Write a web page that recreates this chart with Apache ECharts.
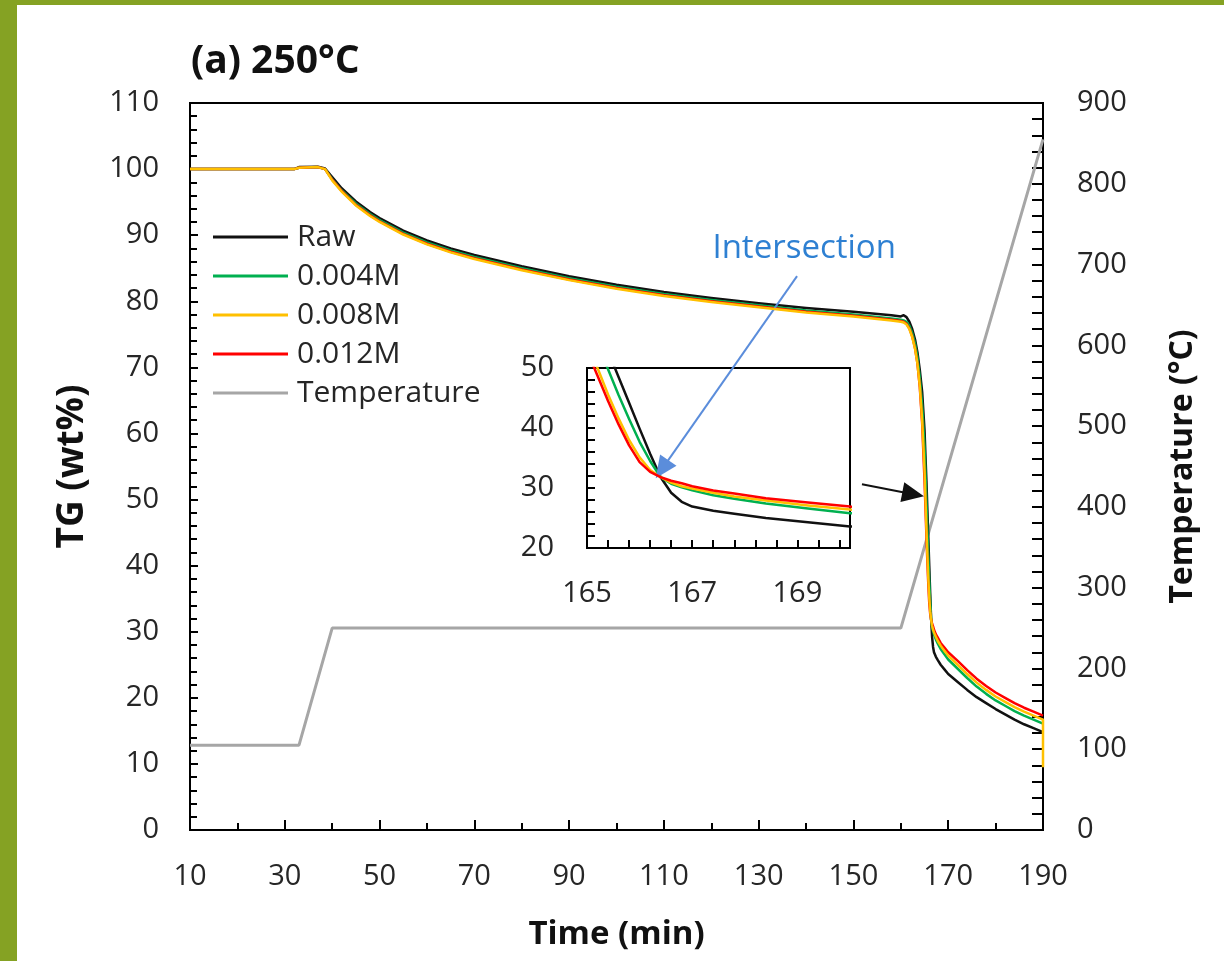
<!DOCTYPE html>
<html>
<head>
<meta charset="utf-8">
<script src="https://cdn.jsdelivr.net/npm/echarts@6/dist/echarts.min.js"></script>
<style>
  html, body { margin: 0; padding: 0; width: 1224px; height: 961px; overflow: hidden; background: #85A223; }
  #panel { position: absolute; left: 17px; top: 5px; right: 0; bottom: 0; background: #ffffff; }
  #chart { position: absolute; left: 0; top: 0; width: 1224px; height: 961px; }
</style>
</head>
<body>
<div id="panel"></div>
<div id="chart"></div>
<script>
// ---- data ----
const time = [10, 32, 33, 37, 38.5, 40, 42, 45, 48, 50,
  55, 60, 65, 70, 80, 90, 100, 110, 120, 130,
  140, 150, 158, 160, 160.6, 161.2, 161.8, 162.4, 163, 163.5,
  164, 164.5, 165, 165.2, 165.4, 165.6, 165.8, 166, 166.2, 166.4,
  166.6, 166.8, 167, 167.4, 167.8, 168.4, 169.2, 170, 172, 174,
  176, 178, 180, 182, 184, 186, 188, 190];
const raw = [100.0, 100.0, 100.3, 100.35, 100.1, 98.8, 97.1, 95.1, 93.5, 92.6,
  90.7, 89.2, 88.0, 87.0, 85.3, 83.8, 82.5, 81.4, 80.5, 79.7,
  79.0, 78.4, 77.9, 77.7, 77.9, 77.6, 76.9, 75.8, 74.2, 72.3,
  69.6, 66.3, 60.5, 56.6, 52.8, 48.5, 44.2, 39.9, 35.7, 31.8,
  29.2, 27.7, 26.9, 26.2, 25.7, 25.0, 24.3, 23.6, 22.4, 21.2,
  20.1, 19.2, 18.3, 17.5, 16.7, 16.0, 15.4, 14.8];
const m004 = [100.0, 100.0, 100.2, 100.3, 100.0, 98.5, 96.8, 94.8, 93.2, 92.3,
  90.4, 88.9, 87.7, 86.7, 85.0, 83.5, 82.2, 81.1, 80.2, 79.4,
  78.6, 78.0, 77.4, 77.2, 77.1, 76.9, 76.3, 75.2, 73.6, 71.6,
  68.5, 64.3, 58.0, 54.0, 49.8, 45.5, 41.5, 37.7, 34.5, 31.8,
  30.7, 30.1, 29.6, 28.8, 28.2, 27.4, 26.6, 25.8, 24.4, 23.0,
  21.7, 20.6, 19.6, 18.8, 18.0, 17.3, 16.7, 16.1];
const m008 = [100.0, 100.0, 100.2, 100.3, 100.0, 98.3, 96.6, 94.5, 92.9, 92.0,
  90.1, 88.6, 87.4, 86.4, 84.7, 83.2, 81.9, 80.8, 79.9, 79.1,
  78.3, 77.7, 77.1, 76.9, 76.8, 76.5, 75.8, 74.6, 72.8, 70.6,
  67.2, 62.0, 54.4, 50.0, 45.6, 41.6, 38.0, 35.1, 33.0, 31.8,
  30.9, 30.3, 29.9, 29.2, 28.6, 27.9, 27.1, 26.4, 25.0, 23.6,
  22.3, 21.2, 20.2, 19.4, 18.6, 17.9, 17.3, 16.7];
const m008Tail = [[190, 9.5]];
const m012 = [100.0, 100.0, 100.2, 100.3, 100.0, 98.4, 96.7, 94.6, 93.0, 92.1,
  90.2, 88.7, 87.5, 86.5, 84.8, 83.3, 82.0, 80.9, 80.0, 79.2,
  78.4, 77.8, 77.2, 77.0, 76.9, 76.6, 75.9, 74.7, 72.9, 70.6,
  67.0, 61.5, 52.9, 48.7, 44.5, 40.6, 37.1, 34.3, 32.7, 31.8,
  31.2, 30.8, 30.3, 29.6, 29.1, 28.3, 27.6, 26.9, 25.6, 24.2,
  22.9, 21.8, 20.8, 20.0, 19.2, 18.5, 17.9, 17.3];
const tempTime = [10, 33, 40, 160, 190];
const temperature = [105, 105, 250, 250, 855];

const seriesNames = ['Raw', '0.004M', '0.008M', '0.012M', 'Temperature'];
const seriesColors = ['#111111', '#00B050', '#FFC000', '#FF0000', '#A6A6A6'];

// axes scales
const xMain = { min: 10, max: 190, step: 20 };
const yMain = { min: 0, max: 110, step: 10 };
const yTemp = { min: 0, max: 900, step: 100 };
const xInset = { min: 165, max: 170, step: 2 };
const yInset = { min: 20, max: 50, step: 10 };

// annotations (data coordinates)
const intersection = [166.4, 31.8];
const blueArrow = [[138.1, 83.8], [109.6, 54.6]];
const blackArrow = [[151.8, 52.3], [162.6, 50.8]];
const labelAt = [139.6, 88.0];

// ---- build ----
const zip = (xs, ys) => xs.map((x, i) => [x, ys[i]]);
const FONT = 'Open Sans';
const TXT = '#262626';
const TICK = 29;

const chart = echarts.init(document.getElementById('chart'), null, { renderer: 'canvas' });

function tgSeries(name, data, color, z, inset) {
  return {
    name: name, type: 'line', data: data,
    xAxisIndex: inset ? 1 : 0, yAxisIndex: inset ? 2 : 0,
    symbol: 'none', showSymbol: false, clip: true, z: z,
    lineStyle: { color: color, width: 2.5, join: 'round' }, itemStyle: { color: color },
    emphasis: { disabled: true }
  };
}

const raw0 = tgSeries('Raw', zip(time, raw), seriesColors[0], 2, false);
raw0.markLine = {
  silent: true, animation: false, symbol: ['none', 'triangle'], symbolSize: [20, 22],
  label: { show: false },
  data: [
    [{ coord: blueArrow[0], lineStyle: { color: '#5B8DDB', width: 2, type: 'solid' } },
     { coord: blueArrow[1], lineStyle: { color: '#5B8DDB', width: 2, type: 'solid' } }],
    [{ coord: blackArrow[0], lineStyle: { color: '#111', width: 2, type: 'solid' } },
     { coord: blackArrow[1], lineStyle: { color: '#111', width: 2, type: 'solid' } }]
  ]
};
const raw1 = tgSeries('Raw', zip(time, raw), seriesColors[0], 2, true);
raw1.markLine = {
  silent: true, animation: false, symbol: ['none', 'none'],
  label: { show: false },
  lineStyle: { color: '#5B8DDB', width: 1.5, type: 'solid' },
  data: [
    [{ coord: [xInset.min - 0.08, intersection[1]] }, { coord: intersection }],
    [{ coord: intersection }, { coord: [intersection[0], yInset.min - 0.4] }]
  ]
};

const option = {
  animation: false,
  backgroundColor: 'transparent',
  textStyle: { fontFamily: FONT },
  title: {
    text: '(a) 250°C', left: 186, top: 37,
    textStyle: { fontFamily: FONT, fontSize: 39, fontWeight: 'bold', color: '#111' }
  },
  legend: {
    data: seriesNames, orient: 'vertical', left: 213, top: 222, padding: 0,
    icon: 'rect', itemWidth: 75, itemHeight: 3, itemGap: 9,
    textStyle: { fontFamily: FONT, fontSize: 30, color: TXT, lineHeight: 30, padding: [0, 0, 0, 4] },
    selectedMode: false
  },
  grid: [
    { left: 190, right: 181, top: 103, bottom: 131, show: true, borderColor: '#000', borderWidth: 2, backgroundColor: 'transparent' },
    { left: 587, top: 368, width: 263, height: 180, show: true, borderColor: '#000', borderWidth: 2, backgroundColor: '#fff' }
  ],
  xAxis: [
    {
      type: 'value', gridIndex: 0, min: xMain.min, max: xMain.max, interval: xMain.step,
      name: 'Time (min)', nameLocation: 'middle', nameGap: 88,
      nameTextStyle: { fontFamily: FONT, fontSize: 33, fontWeight: 'bold', color: '#111' },
      axisLine: { lineStyle: { color: '#000', width: 2 } },
      axisTick: { inside: true, length: 10, lineStyle: { color: '#000', width: 2 } },
      minorTick: { show: true, splitNumber: 2, length: 7, lineStyle: { color: '#000', width: 2 } },
      splitLine: { show: false },
      axisLabel: { fontFamily: FONT, fontSize: TICK, color: TXT, margin: 32 }
    },
    {
      type: 'value', gridIndex: 1, min: xInset.min, max: xInset.max, interval: xInset.step,
      axisLine: { lineStyle: { color: '#000', width: 2 } },
      axisTick: { inside: true, length: 8, lineStyle: { color: '#000', width: 2 } },
      minorTick: { show: true, splitNumber: 5, length: 8, lineStyle: { color: '#000', width: 2 } },
      splitLine: { show: false },
      axisLabel: { fontFamily: FONT, fontSize: TICK, color: TXT, margin: 31, showMaxLabel: false }
    }
  ],
  yAxis: [
    {
      type: 'value', gridIndex: 0, min: yMain.min, max: yMain.max, interval: yMain.step,
      name: 'TG (wt%)', nameLocation: 'middle', nameGap: 99,
      nameTextStyle: { fontFamily: FONT, fontSize: 37, fontWeight: 'bold', color: '#111' },
      axisLine: { show: true, lineStyle: { color: '#000', width: 2 } },
      axisTick: { show: true, inside: true, length: 8, lineStyle: { color: '#000', width: 2 } },
      minorTick: { show: true, splitNumber: 5, length: 7, lineStyle: { color: '#000', width: 2 } },
      splitLine: { show: false },
      axisLabel: { fontFamily: FONT, fontSize: TICK, color: TXT, margin: 31 }
    },
    {
      type: 'value', gridIndex: 0, position: 'right', min: yTemp.min, max: yTemp.max, interval: yTemp.step,
      name: 'Temperature (°C)', nameLocation: 'middle', nameGap: 124,
      nameTextStyle: { fontFamily: FONT, fontSize: 32, fontWeight: 'bold', color: '#111' },
      axisLine: { show: true, lineStyle: { color: '#000', width: 2 } },
      axisTick: { show: true, inside: true, length: 11, lineStyle: { color: '#000', width: 2 } },
      minorTick: { show: true, splitNumber: 5, length: 11, lineStyle: { color: '#000', width: 2 } },
      splitLine: { show: false },
      axisLabel: { fontFamily: FONT, fontSize: TICK, color: TXT, margin: 34 }
    },
    {
      type: 'value', gridIndex: 1, min: yInset.min, max: yInset.max, interval: yInset.step,
      axisLine: { show: true, lineStyle: { color: '#000', width: 2 } },
      axisTick: { show: true, inside: true, length: 8, lineStyle: { color: '#000', width: 2 } },
      minorTick: { show: true, splitNumber: 5, length: 8, lineStyle: { color: '#000', width: 2 } },
      splitLine: { show: false },
      axisLabel: { fontFamily: FONT, fontSize: TICK, color: TXT, margin: 33 }
    }
  ],
  series: [
    raw0,
    tgSeries('0.004M', zip(time, m004), seriesColors[1], 3, false),
    tgSeries('0.012M', zip(time, m012), seriesColors[3], 4, false),
    tgSeries('0.008M', zip(time, m008).concat(m008Tail), seriesColors[2], 5, false),
    {
      name: 'Temperature', type: 'line', data: zip(tempTime, temperature),
      xAxisIndex: 0, yAxisIndex: 1, symbol: 'none', z: 1,
      lineStyle: { color: seriesColors[4], width: 3 }, itemStyle: { color: seriesColors[4] },
      emphasis: { disabled: true }
    },
    raw1,
    tgSeries('0.004M', zip(time, m004), seriesColors[1], 3, true),
    tgSeries('0.008M', zip(time, m008), seriesColors[2], 4, true),
    tgSeries('0.012M', zip(time, m012), seriesColors[3], 5, true)
  ]
};
chart.setOption(option);

const p = chart.convertToPixel({ xAxisIndex: 0, yAxisIndex: 0 }, labelAt);
chart.setOption({
  graphic: [{
    type: 'text', x: p[0], y: p[1], silent: true, z: 100,
    style: { text: 'Intersection', fill: '#2E80D2', font: '33px "Open Sans"', align: 'center', verticalAlign: 'middle' }
  }]
});
</script>
</body>
</html>
